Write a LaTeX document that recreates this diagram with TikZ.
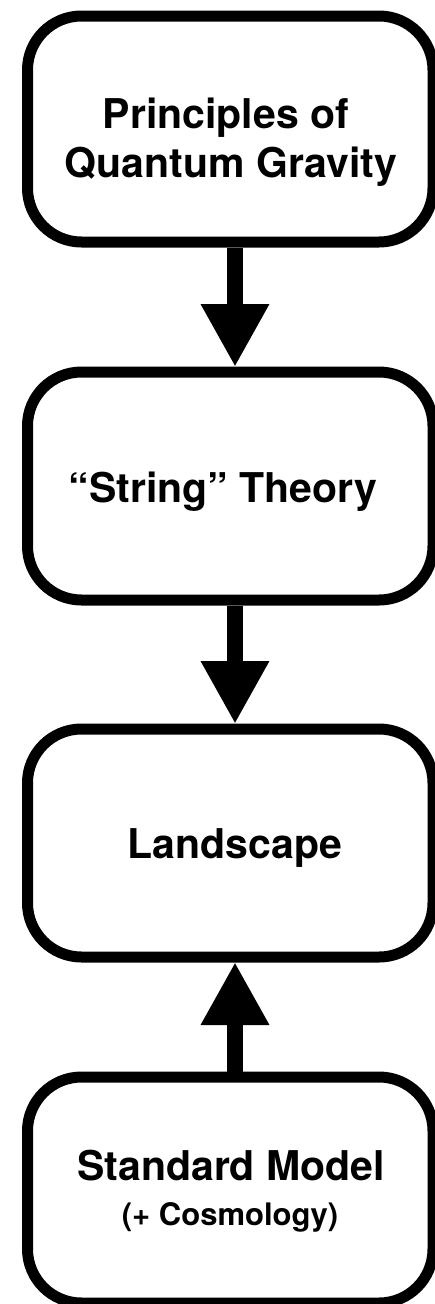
\documentclass[tikz,border=0pt]{standalone}
\usepackage{fontspec}
\setmainfont{TeX Gyre Heros}
\usetikzlibrary{arrows.meta}
\tikzset{
  flowbox/.style={draw=black, line width=11pt, rounded corners=54pt, fill=white,
    minimum width=405.5pt, inner sep=0pt},
  boxtext/.style={font=\bfseries\fontsize{41pt}{49pt}\selectfont, align=center, inner sep=0pt, anchor=base},
  smalltext/.style={font=\bfseries\fontsize{31pt}{37pt}\selectfont, inner sep=0pt, anchor=base},
  bigarrow/.style={line width=16pt, -{Triangle[length=63pt,width=64pt]}, shorten >=-0.5pt}
}
\begin{document}
\begin{tikzpicture}[x=1pt, y=-1pt]
\useasboundingbox (0,0) rectangle (435,1304);
\node[flowbox, minimum height=226pt] (b1) at (230.25,129) {};
\node[flowbox, minimum height=228pt] (b2) at (230.25,486) {};
\node[flowbox, minimum height=228pt] (b3) at (230.25,843) {};
\node[flowbox, minimum height=226pt] (b4) at (230.25,1190) {};
\node[boxtext] (t1a) at (226,128) {Principles of};
\node[boxtext] (t1b) at (231,177) {Quantum Gravity};
\node[boxtext] (t2) at (223,502) {“String” Theory};
\node[boxtext] (t3) at (235,858) {Landscape};
\node[boxtext] (t4a) at (231,1180) {Standard Model};
\node[smalltext] (t4b) at (230,1225) {(+ Cosmology)};
\draw[bigarrow] ([xshift=4.75pt]b1.south) -- ([xshift=4.75pt]b2.north);
\draw[bigarrow] ([xshift=4.75pt]b2.south) -- ([xshift=4.75pt]b3.north);
\draw[bigarrow] ([xshift=4.75pt]b4.north) -- ([xshift=4.75pt]b3.south);
\end{tikzpicture}
\end{document}
